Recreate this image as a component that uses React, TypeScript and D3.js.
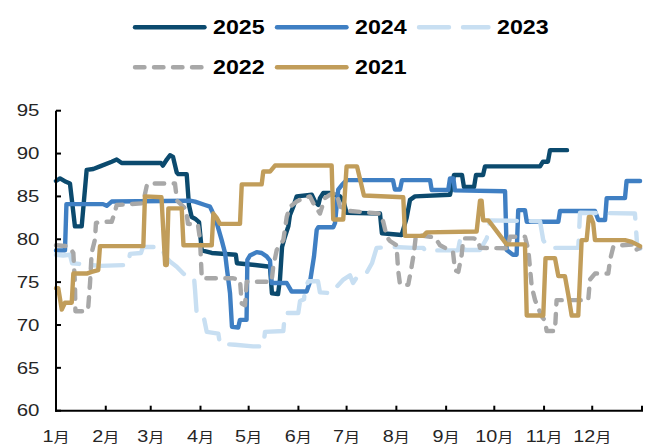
import React from 'react';
import * as d3 from 'd3';

type Pt = [number, number]; // [day of year, value]

// Month boundaries (day of year) and labels
const monthStarts = [0, 31, 59, 90, 120, 151, 181, 212, 243, 273, 304, 334, 365];
const monthLabels = ['1', '2', '3', '4', '5', '6', '7', '8', '9', '10', '11', '12'];
const yTicks = [60, 65, 70, 75, 80, 85, 90, 95];

const s2025: Pt[] = [
  [0, 86.8], [2.5, 87.1], [6.2, 86.7], [8.7, 86.5], [11.8, 81.5], [16, 81.5], [19.1, 88.1], [23.2, 88.2],
  [27.4, 88.5], [34.7, 89.05], [37.8, 89.3], [40.9, 88.9], [65.4, 88.9], [66.6, 88.6], [69, 89.3], [71, 89.8],
  [72.9, 89.6], [75.2, 87.8], [76.2, 87.6], [81.4, 87.6], [82.8, 84], [84.5, 82.6], [86.6, 82.4], [89.1, 82],
  [90.8, 78.7], [97, 78.4], [112, 78.2], [112.7, 77.2], [124, 77], [133.3, 76.8], [134.5, 73.7], [138.3, 73.6],
  [139.5, 75.3], [140.8, 79.1], [142.6, 80.3], [144.7, 81.5], [145.7, 82.8], [147.8, 83.8], [149.9, 85],
  [159.3, 85.2], [161.3, 84.4], [163.4, 84], [164.4, 84.8], [166.5, 85.4], [170.7, 85.4], [176.9, 85],
  [179, 84.5], [181, 83.1], [201.8, 83], [203, 80.7], [215.3, 80.5], [218.4, 82.5], [220.5, 84.6], [223.6, 85],
  [245.4, 85.2], [247.9, 87.5], [252.9, 87.5], [254.1, 86.1], [260.4, 86.1], [261.6, 87.5], [266, 87.5],
  [267.2, 88.5], [301.5, 88.5], [303.3, 89.05], [306.4, 89.05], [307.7, 90.4], [318.3, 90.4],
];

const s2024: Pt[] = [
  [0, 78.7], [5.6, 78.7], [6.5, 84.1], [29.3, 84.1], [31.6, 83.9], [34.7, 84.4], [83.5, 84.5], [86.6, 84.4],
  [92.8, 84], [95.9, 83.8], [97.2, 83.3], [100.1, 81.9], [103.2, 79.9], [105.3, 78.4], [106.3, 76.8],
  [108.4, 73.7], [109.6, 69.8], [113.5, 69.7], [114.6, 70.6], [118.7, 70.6], [119.2, 77.6], [120.8, 78.1],
  [125, 78.5], [128.1, 78.4], [131.2, 78], [133.3, 77.5], [134.3, 74.9], [143.7, 74.9], [146.8, 73.9],
  [156.1, 73.9], [158.2, 75], [160.7, 78], [162.4, 81.1], [163.4, 81.4], [172.7, 81.4], [173.8, 81.9],
  [175.8, 85.8], [177.9, 86.3], [181, 86.9], [209.9, 86.9], [211.1, 85.8], [214.3, 85.8], [215.5, 86.9],
  [233, 86.9], [234, 85.75], [244.3, 85.75], [245.4, 87.1], [247.5, 87.1], [248.5, 85.7], [279.7, 85.6],
  [280.7, 78.75], [284.6, 78.2], [286.9, 78.2], [287.9, 83.4], [292.1, 83.4], [293.2, 82.05], [312.9, 82.05],
  [313.9, 83.3], [335.7, 83.3], [337.8, 82.25], [342, 82.25], [343, 84.8], [354.4, 84.8], [355.4, 86.8],
  [363.8, 86.8],
];

const s2023: Pt[] = [
  [0, 78.2], [4.4, 78.1], [8.7, 78.2], [10, 77.2], [27.4, 76.9], [44.8, 77], [46.1, 78.3], [52.9, 78.4],
  [54.2, 79.1], [65.8, 79.1], [68, 78], [71, 77.4], [75.2, 76.8], [79.3, 76], [81.6, 75.7], [86, 75.5],
  [86.6, 74.1], [87.6, 71.4], [91.7, 71.2], [93.9, 69.2], [101.1, 69], [102.1, 67.8], [111.5, 67.7],
  [122.7, 67.5], [129.1, 67.5], [130.2, 69.2], [141.6, 69.3], [142.6, 71.4], [150.9, 71.4], [152, 72.8],
  [154.5, 73], [155.1, 74.3], [157.2, 75.1], [163.2, 75.1], [164.4, 73.8], [171.9, 73.7], [175, 74.5],
  [179, 75.3], [183.1, 75.8], [185, 74.9], [187.5, 75.6], [190.6, 75.7], [193.5, 76.1], [196.8, 77.2],
  [199.7, 79], [210.1, 79.1], [222.4, 79], [228.8, 79], [229.8, 78.7], [250.4, 78.7], [251.6, 79.9],
  [253.7, 79.9], [254.8, 78.75], [264.1, 78.75], [268.3, 80.1], [270.3, 82.2], [301.5, 82.1], [303.5, 79.9],
  [305.8, 79.2], [310.8, 79], [325.3, 79], [326.4, 83.1], [360.6, 83], [361.9, 79.5], [363.8, 78.9],
];

const s2022: Pt[] = [
  [0, 79.3], [6.6, 79.2], [8.7, 79], [10.8, 78.4], [11.8, 74.9], [12.1, 71.6], [19.1, 71.6], [20.1, 72.1],
  [21.2, 74.9], [22.2, 78.4], [24.3, 80], [24.9, 81.9], [29.5, 82.05], [34.7, 82.05], [36.7, 83.2],
  [37.8, 84], [54.2, 84.2], [56.7, 86.4], [58.5, 86.5], [74.1, 86.5], [75.4, 84.5], [81, 83.5], [82.2, 81.8],
  [88.4, 81.7], [89.7, 80], [90.8, 75.45], [110.4, 75.45], [114.6, 75.25], [115.7, 72.5], [117.7, 72.3],
  [118.8, 75.05], [134.3, 75.05], [135.3, 76.8], [137.5, 78.75], [141.6, 79.9], [143.7, 82.6], [145.7, 83.8],
  [149.9, 84.4], [154, 84.8], [158.2, 85], [160.3, 84.2], [164.4, 83], [167.5, 84.8], [170.7, 85.2],
  [174.8, 85.4], [176.9, 83.8], [180, 83.6], [183.1, 83.3], [201.8, 83], [203.9, 82], [206, 80.3],
  [208, 79.8], [212.1, 79.3], [213.1, 76.4], [214.3, 74.7], [219.4, 74.7], [221.5, 76.8], [223, 78.5],
  [224.2, 80.5], [233, 80.3], [236.1, 80.2], [239.2, 79.3], [247.3, 78.5], [248.5, 76.4], [250.6, 76.2],
  [252.7, 78.2], [253.7, 80.1], [259.9, 80.1], [262.7, 80], [264.1, 79], [281.5, 78.95], [282.8, 80.3],
  [292.1, 80.3], [294.2, 78.75], [296.3, 74.5], [298.4, 72.9], [302.5, 71], [304.6, 70.5], [305.6, 69.3],
  [310.8, 69.3], [311.8, 72.9], [331.5, 72.9], [332.6, 75.3], [335.7, 76], [344, 76], [345.1, 77.6],
  [347.1, 79.1], [352.3, 79.3], [359.4, 79.4], [360.6, 78.7], [363.8, 79],
];

const s2021: Pt[] = [
  [0, 74.3], [1.4, 74.3], [3.6, 71.8], [5.6, 72.6], [9.8, 72.6], [10.8, 76], [19.1, 76], [22.2, 76.2],
  [26.3, 76.4], [27.4, 79.2], [54.4, 79.2], [55.4, 85], [65.7, 84.9], [68, 77], [69, 77], [70, 83.6],
  [78.3, 83.6], [79.4, 79.3], [97, 79.3], [98, 83], [100.1, 82.5], [102.1, 81.8], [114.6, 81.8],
  [115.7, 86.4], [128.1, 86.4], [129.1, 87.9], [133.3, 87.9], [136.4, 88.6], [171.7, 88.6], [172.7, 82.3],
  [178.9, 82.3], [181, 88.5], [187.5, 88.5], [191.8, 85.1], [216.3, 84.9], [217.4, 80.4], [228.8, 80.4],
  [230.9, 80.8], [262, 80.9], [264.1, 84.5], [265.1, 84.5], [266.1, 82.2], [269.3, 82.2], [271.4, 81.7],
  [280.7, 79.4], [292.1, 79.4], [293.2, 71.1], [303.5, 71.1], [304.9, 77.8], [310.8, 77.8], [312.9, 75.7],
  [317, 75.7], [319.1, 73.5], [321.2, 71.1], [325.3, 71.1], [327.4, 79.9], [330.5, 79.9], [331.9, 82.6],
  [333.2, 82.6], [334.6, 81.9], [335.7, 79.9], [354.4, 79.9], [358.6, 79.7], [363.8, 79.2],
];

const yearNames = ['2025', '2024', '2023', '2022', '2021'];
const yearData = [s2025, s2024, s2023, s2022, s2021];

const lineColors = ['#0B4A6E', '#3F7FC3', '#C8DFF2', '#A8A8A8', '#C19D5A'];
const lineDashes = [undefined, undefined, '30 14', '9.5 9.5', undefined];

const W = 657;
const H = 448;
const plot = { left: 56, right: 642, top: 110.7, bottom: 410.7 };
const SW = 4.4;

const numFont = '"Liberation Sans", Arial, sans-serif';
const cjkFont = '"Noto Sans CJK SC", sans-serif';
const textColor = '#262626';

export default function App() {
  const x = d3.scaleLinear().domain([0, 365]).range([plot.left, plot.right]);
  const y = d3.scaleLinear().domain([60, 95]).range([plot.bottom, plot.top]);
  const line = d3.line<Pt>().x((d) => x(d[0])).y((d) => y(d[1]));

  const legendPos = [
    [133, 27.3],
    [275, 27.3],
    [417, 27.3],
    [133, 67.3],
    [275, 67.3],
  ];

  return (
    <svg
      width={W}
      height={H}
      style={{ position: 'absolute', left: 0, top: 0, background: '#fff' }}
    >
      {/* series */}
      {yearData.map((data, i) => (
        <path
          key={yearNames[i]}
          d={line(data) ?? ''}
          fill="none"
          stroke={lineColors[i]}
          strokeWidth={SW}
          strokeLinejoin="round"
          strokeLinecap="round"
          strokeDasharray={lineDashes[i]}
        />
      ))}

      {/* y axis */}
      <line x1={plot.left} x2={plot.left} y1={plot.top} y2={plot.bottom + 1} stroke="#000" strokeWidth={2} />
      {yTicks.map((t) => (
        <g key={t}>
          <line x1={plot.left} x2={plot.left + 5} y1={y(t)} y2={y(t)} stroke="#000" strokeWidth={2} />
          <text
            transform={`translate(39.5,${y(t)}) scale(1.24,1)`}
            textAnchor="end"
            dominantBaseline="central"
            fontFamily={numFont}
            fontSize={16.5}
            fill={textColor}
          >
            {t}
          </text>
        </g>
      ))}

      {/* x axis */}
      <line x1={plot.left - 1} x2={plot.right + 1} y1={plot.bottom} y2={plot.bottom} stroke="#000" strokeWidth={2} />
      {monthStarts.map((d) => (
        <line key={d} x1={x(d)} x2={x(d)} y1={plot.bottom} y2={plot.bottom - 5} stroke="#000" strokeWidth={2} />
      ))}
      {monthLabels.map((m, i) => (
        <text
          key={m}
          transform={`translate(${x(monthStarts[i])},442) scale(1.2,1)`}
          textAnchor="middle"
          fill={textColor}
        >
          <tspan fontFamily={numFont} fontSize={16.5}>{m}</tspan>
          <tspan fontFamily={cjkFont} fontSize={13.5}>月</tspan>
        </text>
      ))}

      {/* legend */}
      {yearNames.map((name, i) => {
        const [lx, ly] = legendPos[i];
        return (
          <g key={name}>
            <line
              x1={lx + 2}
              x2={lx + 71.5}
              y1={ly}
              y2={ly}
              stroke={lineColors[i]}
              strokeWidth={SW}
              strokeLinecap="round"
              strokeDasharray={lineDashes[i]}
            />
            <text
              transform={`translate(${lx + 80},${ly}) scale(1.16,1)`}
              dominantBaseline="central"
              fontFamily={numFont}
              fontWeight="bold"
              fontSize={20}
              fill="#000"
            >
              {name}
            </text>
          </g>
        );
      })}
    </svg>
  );
}
